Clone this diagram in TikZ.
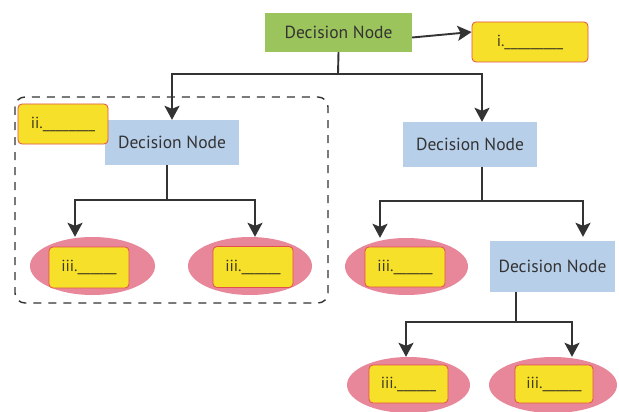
\documentclass[tikz,border=0pt]{standalone}
\usepackage{fontspec}
\setmainfont{PT Sans}
\usetikzlibrary{arrows.meta,shapes.geometric}
\definecolor{dngreen}{HTML}{9CC45C}
\definecolor{dnblue}{HTML}{B8CFEA}
\definecolor{lblyellow}{HTML}{F6E02A}
\definecolor{lblred}{HTML}{E2504A}
\definecolor{leafpink}{HTML}{E8879A}
\definecolor{linegray}{HTML}{333333}
\definecolor{txtgray}{HTML}{333333}
\definecolor{lbltxt}{HTML}{3E3A20}
\tikzset{
  dnbox/.style={fill=#1, draw=none, text=txtgray, font=\fontsize{17.5}{19}\selectfont, inner sep=0pt},
  lblbox/.style={fill=lblyellow, draw=lblred, line width=0.8pt, rounded corners=4pt, text=lbltxt, font=\fontsize{16}{18}\selectfont, inner sep=0pt},
  leaf/.style={ellipse, fill=leafpink, draw=none, inner sep=0pt},
  conn/.style={draw=linegray, line width=1.9pt},
  arr/.style={conn, -{Stealth[length=14pt,width=15pt,inset=3pt]}},
  grp/.style={draw=linegray, line width=1.4pt, dash pattern=on 8pt off 7pt, rounded corners=10pt}
}
\begin{document}
\begin{tikzpicture}[x=1pt,y=-1pt]
\path[use as bounding box, fill=white] (0,0) rectangle (619,412);
% group frame
\draw[grp] (15,97) rectangle (328,303);
% nodes
\node[dnbox=dngreen, minimum width=147pt, minimum height=39pt] (root) at (338.5,32.5) {Decision Node};
\node[lblbox, minimum width=116pt, minimum height=40pt] (lab1) at (530,42) {i.\_\_\_\_\_\_\_\_\_};
\node[dnbox=dnblue, minimum width=134pt, minimum height=45pt] (dnL) at (172,142.5) {Decision Node};
\node[lblbox, minimum width=90pt, minimum height=40pt] (lab2) at (63,124) {ii.\_\_\_\_\_\_\_\_};
\node[dnbox=dnblue, minimum width=134pt, minimum height=45pt] (dnR) at (470,144.5) {Decision Node};
\node[leaf, minimum width=125pt, minimum height=58pt] (ellLL) at (92.5,266) {};
\node[lblbox, minimum width=80pt, minimum height=41pt] (labLL) at (89,267.5) {iii.\_\_\_\_\_\_};
\node[leaf, minimum width=124pt, minimum height=58pt] (ellLR) at (250,266) {};
\node[lblbox, minimum width=80pt, minimum height=41pt] (labLR) at (253,267) {iii.\_\_\_\_\_\_};
\node[leaf, minimum width=123pt, minimum height=57pt] (ellRL) at (406.5,266.5) {};
\node[lblbox, minimum width=80pt, minimum height=40pt] (labRL) at (405,267) {iii.\_\_\_\_\_\_};
\node[dnbox=dnblue, minimum width=125pt, minimum height=51pt] (dnRR) at (552.5,266.5) {Decision Node};
\node[leaf, minimum width=123pt, minimum height=56pt] (ellBL) at (408.5,385) {};
\node[lblbox, minimum width=79pt, minimum height=38pt] (labBL) at (408.5,384) {iii.\_\_\_\_\_\_};
\node[leaf, minimum width=128pt, minimum height=56pt] (ellBR) at (553,385) {};
\node[lblbox, minimum width=78pt, minimum height=38pt] (labBR) at (554,384) {iii.\_\_\_\_\_\_};
% connectors
\draw[arr] ([yshift=-5pt]root.east) -- ([yshift=10pt]lab1.west);
\coordinate (j0) at (338,74);
\draw[conn] (root.south) -- (j0);
\draw[arr] (j0) -| (dnL.north);
\draw[arr] (j0) -| ([xshift=12pt]dnR.north);
\coordinate (j1) at (167,200);
\draw[conn] ([xshift=-5pt]dnL.south) -- (j1);
\draw[arr] (j1) -| ([xshift=-17.5pt]ellLL.north);
\draw[arr] (j1) -| ([xshift=5pt]ellLR.north);
\coordinate (j2) at (482,201);
\draw[conn] ([xshift=12pt]dnR.south) -- (j2);
\draw[arr] (j2) -| ([xshift=-26.5pt]ellRL.north);
\draw[arr] (j2) -| ([xshift=30.5pt,yshift=4pt]dnRR.north);
\coordinate (j3) at (516,322);
\draw[conn] ([xshift=-36.5pt]dnRR.south) -- (j3);
\draw[arr] (j3) -| ([xshift=-2.5pt]ellBL.north);
\draw[arr] (j3) -| ([xshift=19pt]ellBR.north);
\end{tikzpicture}
\end{document}
